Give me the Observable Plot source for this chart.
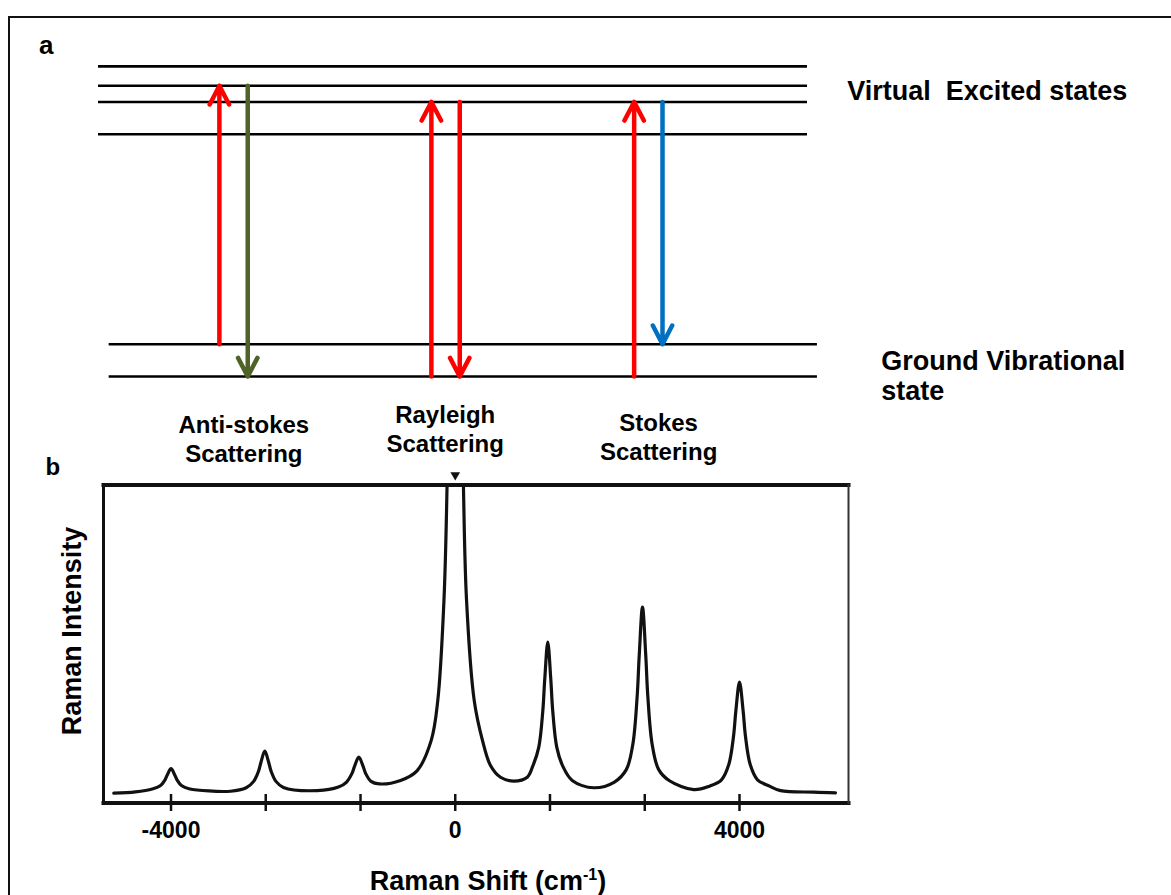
<!DOCTYPE html>
<html>
<head>
<meta charset="utf-8">
<script src="https://cdn.jsdelivr.net/npm/d3@7"></script>
<script src="https://cdn.jsdelivr.net/npm/@observablehq/plot@0.6"></script>
<style>
  html, body { margin: 0; padding: 0; background: #fff; }
  #figure { position: relative; width: 1171px; height: 895px; overflow: hidden; background: #fff;
            font-family: "Liberation Sans", Arial, sans-serif; }
  #border { position: absolute; left: 8px; top: 16px; width: 1300px; height: 1000px;
            border-left: 2px solid #111; border-top: 2px solid #111; }
  #panel-a, #panel-b { position: absolute; left: 0; }
  #panel-a { top: 0; }
  #panel-b { top: 440px; }
</style>
</head>
<body>
<div id="figure">
  <div id="border"></div>
  <div id="panel-a"></div>
  <div id="panel-b"></div>
</div>
<script>
// ---------- (a) Energy-level diagram ----------
const groundLevels = [0, 1];                 // vibrational levels of the ground state
const virtualLevels = [7.5, 8.5, 9.0, 9.6];  // virtual excited states
const processes = ["Anti-stokes", "Rayleigh", "Stokes"];
const processLabels = ["Anti-stokes\nScattering", "Rayleigh\nScattering", "Stokes\nScattering"];
const transitionProcess = ["Anti-stokes", "Anti-stokes", "Rayleigh", "Rayleigh", "Stokes", "Stokes"];
const transitionKind = ["incident", "scattered", "incident", "scattered", "incident", "scattered"];
const transitionFrom = [1, 9.0, 0, 8.5, 0, 8.5];
const transitionTo = [9.0, 0, 8.5, 0, 8.5, 1];

// ---------- (b) Raman spectrum ----------
const shiftTicks = [-4000, -2667, -1333, 0, 1333, 2667, 4000];
const shiftTickLabels = ["-4000", "", "", "0", "", "", "4000"];
const ramanShift = [
  -4805, -4500, -4253, -4152, -4084, -4051, -4000, -3949, -3916, -3848, -3747, -3163,
  -2942, -2837, -2767, -2732, -2680, -2628, -2593, -2523, -2418, -1943,
  -1644, -1529, -1453, -1415, -1357, -1299, -1261, -1185, -1070, -770, -535,
  -338, -246, -159, -115, -76, -28, 0, 28, 76, 115, 159, 267, 383, 496, 637, 824,
  1013, 1091, 1175, 1232, 1260, 1302, 1344, 1372, 1429, 1513, 1646, 1950,
  2240, 2407, 2498, 2559, 2590, 2635, 2680, 2711, 2772, 2863, 3015, 3357,
  3578, 3747, 3848, 3916, 3949, 4000, 4051, 4084, 4152, 4253, 4422, 4577, 5046, 5351
];
const ramanIntensity = [
  3.1, 3.5, 4.5, 5.4, 7.3, 8.9, 10.8, 8.9, 7.3, 5.4, 4.5, 3.7,
  4.8, 6.8, 10.1, 13.0, 16.3, 13.0, 10.1, 6.8, 4.9, 3.9,
  5.0, 6.6, 9.3, 11.7, 14.4, 11.7, 9.3, 6.8, 6.0, 7.1, 10.2,
  19.7, 32.2, 63.7, 100, 159, 275, 312, 275, 159, 100, 63.7, 32.2, 19.7, 11.8, 8.1, 6.9,
  8.1, 11.6, 17.5, 28.9, 39.1, 50.6, 39.1, 28.9, 17.5, 11.6, 7.1, 4.8,
  6.6, 10.5, 18.3, 33.2, 46.8, 61.6, 46.8, 33.2, 18.3, 10.5, 7.0, 4.2,
  5.3, 7.3, 12.0, 21.0, 29.0, 38.0, 29.0, 21.0, 12.0, 7.3, 5.3, 3.9, 3.4, 3.2
];

// ---------- styling & layout ----------
const font = '"Liberation Sans", Arial, sans-serif';
const colors = {
  incident: "#ff0000",
  "Anti-stokes": "#4f6228",
  Rayleigh: "#ff0000",
  Stokes: "#0070c0"
};
// diagram units: the virtual-state lines span 0..100 horizontally
const diagram = {
  virtualSpan: [0, 100],
  groundSpan: [1.5, 101.4],
  pairCentre: {"Anti-stokes": 19.05, Rayleigh: 48.95, Stokes: 77.55},
  pairHalfGap: 2.0,
  labelX: {"Anti-stokes": 20.5, Rayleigh: 48.9, Stokes: 79.0},
  labelY: {"Anti-stokes": -1.115, Rayleigh: -0.795, Stokes: -1.055}
};

const transitions = transitionProcess.map((p, i) => ({
  process: p,
  kind: transitionKind[i],
  from: transitionFrom[i],
  to: transitionTo[i]
}));
const arrowX = d => diagram.pairCentre[d.process] + (d.kind === "incident" ? -1 : 1) * diagram.pairHalfGap;
const arrowColor = d => d.kind === "incident" ? colors.incident : colors[d.process];

const labelRows = processes.map((p, i) => ({process: p, text: processLabels[i]}));

const panelA = Plot.plot({
  width: 1171,
  height: 470,
  margin: 0,
  x: {domain: [0, 100], range: [98, 807], axis: null},
  y: {domain: [0, 10], range: [376, 53], axis: null},
  color: {type: "identity"},
  style: {fontFamily: font, background: "transparent", overflow: "visible"},
  marks: [
    Plot.ruleY(virtualLevels, {x1: diagram.virtualSpan[0], x2: diagram.virtualSpan[1], stroke: "#000", strokeWidth: 2.6}),
    Plot.ruleY(groundLevels, {x1: diagram.groundSpan[0], x2: diagram.groundSpan[1], stroke: "#000", strokeWidth: 2.6}),
    Plot.arrow(transitions, {
      x: arrowX, y1: "from", y2: "to",
      stroke: arrowColor, strokeWidth: 4.5,
      headLength: 7, headAngle: 55, strokeLinejoin: "round"
    }),
    Plot.text(["a"], {
      x: -8.4, y: 10, text: d => d, textAnchor: "start", lineAnchor: "bottom",
      fontSize: 26, fontWeight: "bold", fill: "#000"
    }),
    Plot.text(["Virtual\u00a0 Excited states"], {
      x: 105.6, y: 9.16, text: d => d, textAnchor: "start", lineAnchor: "top",
      fontSize: 27, fontWeight: "bold", fill: "#000"
    }),
    Plot.text(["Ground Vibrational\nstate"], {
      x: 110.4, y: 0.86, text: d => d, textAnchor: "start", lineAnchor: "top",
      fontSize: 27, fontWeight: "bold", lineHeight: 1.11, fill: "#000"
    }),
    Plot.text(labelRows, {
      x: d => diagram.labelX[d.process], y: d => diagram.labelY[d.process],
      text: "text", textAnchor: "middle", lineAnchor: "top",
      fontSize: 24, fontWeight: "bold", lineHeight: 1.21, fill: "#000"
    })
  ]
});
document.getElementById("panel-a").append(panelA);

const spectrum = ramanShift.map((s, i) => ({shift: s, intensity: ramanIntensity[i]}));
const tickLabel = d => shiftTickLabels[shiftTicks.indexOf(d)];

const panelB = Plot.plot({
  width: 1171,
  height: 455,
  marginTop: 44.5,
  marginBottom: 92.5,
  marginLeft: 103,
  marginRight: 323,
  x: {domain: [-4950, 5534], axis: null},
  y: {domain: [0, 100], axis: null},
  style: {fontFamily: font, background: "transparent", overflow: "visible"},
  marks: [
    Plot.line(spectrum, {
      x: "shift", y: "intensity", curve: "catmull-rom",
      stroke: "#111", strokeWidth: 3.2, clip: true
    }),
    Plot.frame({anchor: "top", stroke: "#111", strokeWidth: 4}),
    Plot.frame({anchor: "bottom", stroke: "#111", strokeWidth: 4}),
    Plot.frame({anchor: "left", stroke: "#111", strokeWidth: 3}),
    Plot.frame({anchor: "right", stroke: "#333", strokeWidth: 2}),
    Plot.axisX(shiftTicks, {
      tickSize: 17, dy: -8.5, tickFormat: () => "", label: null,
      stroke: "#111", strokeWidth: 2.5
    }),
    Plot.axisX(shiftTicks.filter(d => tickLabel(d) !== ""), {
      tickSize: 0, tickPadding: 19, tickFormat: tickLabel, label: null,
      fontSize: 23, fontWeight: "bold", fill: "#000"
    }),
    // off-scale marker above the Rayleigh line
    Plot.dot([0], {
      x: d => d, frameAnchor: "top", dy: -10, symbol: "triangle", rotate: 180,
      r: 3.6, fill: "#111", stroke: "none"
    }),
    Plot.text(["b"], {
      frameAnchor: "top-left", dx: -58, dy: -10, text: d => d,
      textAnchor: "start", lineAnchor: "bottom",
      fontSize: 24, fontWeight: "bold", fill: "#000"
    }),
    Plot.text(["Raman Intensity"], {
      frameAnchor: "left", dx: -31.6, dy: -13, rotate: -90, text: d => d,
      textAnchor: "middle", fontSize: 27, fontWeight: "bold", fill: "#000"
    }),
    Plot.text(["Raman Shift (cm-1)"], {
      frameAnchor: "bottom", dx: 12, dy: 87, text: d => d, lineAnchor: "bottom",
      textAnchor: "middle", fontSize: 27, fontWeight: "bold", fill: "#000", className: "shift-label"
    })
  ]
});
document.getElementById("panel-b").append(panelB);

// typeset the unit with a superscript exponent
const unitText = panelB.querySelector(".shift-label text");
if (unitText) {
  const svgNS = "http://www.w3.org/2000/svg";
  unitText.textContent = "";
  unitText.append("Raman Shift (cm");
  const sup = document.createElementNS(svgNS, "tspan");
  sup.setAttribute("font-size", "16");
  sup.setAttribute("dy", "-10");
  sup.textContent = "-1";
  const close = document.createElementNS(svgNS, "tspan");
  close.setAttribute("dy", "10");
  close.textContent = ")";
  unitText.append(sup, close);
}
</script>
</body>
</html>
